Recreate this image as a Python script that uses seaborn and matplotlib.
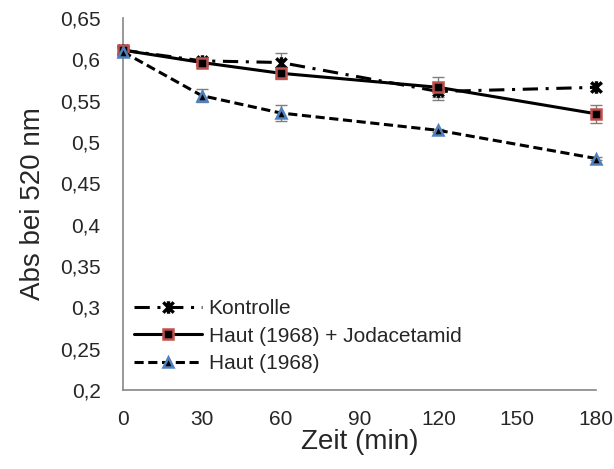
import numpy as np
import pandas as pd
from matplotlib import pyplot as plt
from matplotlib.path import Path
from matplotlib.ticker import FuncFormatter
import seaborn as sns

# Werte
zeit = [0, 30, 60, 120, 180]
kontrolle = [0.611, 0.598, 0.596, 0.561, 0.566]
kontrolle_err = [0.004, 0.004, 0.011, 0.010, 0.004]
jodacetamid = [0.611, 0.596, 0.583, 0.566, 0.534]
jodacetamid_err = [0.004, 0.004, 0.007, 0.012, 0.011]
haut = [0.609, 0.556, 0.535, 0.514, 0.480]
haut_err = [0.004, 0.008, 0.010, 0.002, 0.002]

sns.set_style('white')
plt.rcParams['font.family'] = ['Liberation Sans', 'DejaVu Sans']

# Excel-Sternmarker: X mit senkrechtem Strich
stern = Path([(-1, -1), (1, 1), (-1, 1), (1, -1), (0, -1.2), (0, 1.2)],
             [Path.MOVETO, Path.LINETO, Path.MOVETO, Path.LINETO, Path.MOVETO, Path.LINETO])

fig, ax = plt.subplots(figsize=(6.14, 4.69), dpi=100)
fig.subplots_adjust(left=0.2, right=0.971, top=0.962, bottom=0.168)

series = [
    ('Kontrolle', kontrolle, kontrolle_err, (0, (5, 2.5, 1, 2.5)), stern, 'black', 'black', 9, 2.4),
    ('Haut (1968) + Jodacetamid', jodacetamid, jodacetamid_err, '-', 's', 'black', '#c0504d', 7, 1.8),
    ('Haut (1968)', haut, haut_err, (0, (3, 1.5)), '^', 'black', '#4f81bd', 7, 1.8),
]

for name, vals, err, ls, mk, fc, ec, ms, mew in series:
    ax.errorbar(zeit, vals, yerr=err, fmt='none', ecolor='#7f7f7f', elinewidth=1,
                capsize=4, capthick=1, zorder=2, clip_on=False)
    sns.lineplot(x=zeit, y=vals, ax=ax, color='black', linewidth=2.2, linestyle=ls,
                 marker=mk, markersize=ms, markerfacecolor=fc, markeredgecolor=ec,
                 markeredgewidth=mew, label=name, clip_on=False, zorder=3)

ax.set_xlim(0, 180)
ax.set_ylim(0.2, 0.65)
ax.set_xticks(np.arange(0, 181, 30))
ax.set_yticks(np.arange(0.2, 0.651, 0.05))
ax.yaxis.set_major_formatter(FuncFormatter(lambda v, p: ('%g' % round(v, 2)).replace('.', ',')))

for s in ['top', 'right']:
    ax.spines[s].set_visible(False)
for s in ['left', 'bottom']:
    ax.spines[s].set_color('#868686')
    ax.spines[s].set_linewidth(1.2)

ax.tick_params(axis='y', direction='out', length=5, color='#868686', labelsize=15, pad=11)
ax.tick_params(axis='x', direction='out', length=5, color='#868686', labelsize=15, pad=9)
ax.set_xlabel('Zeit (min)', fontsize=20, labelpad=0)
ax.set_ylabel('Abs bei 520 nm', fontsize=20, labelpad=10)

ax.legend(loc='center left', frameon=False, fontsize=15, handlelength=3.3,
          handletextpad=0.3, borderaxespad=0, labelspacing=0.4,
          bbox_to_anchor=(0.005, 0.145))

plt.savefig('out.png', dpi=100)
